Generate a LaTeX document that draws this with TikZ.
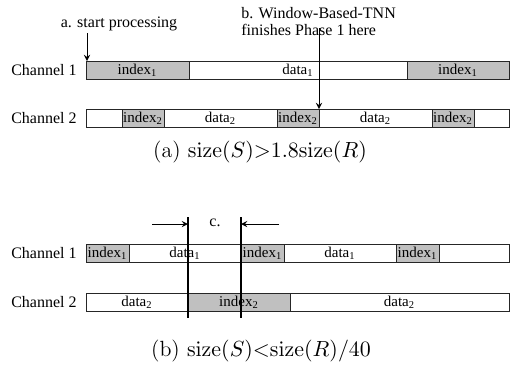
\documentclass[tikz,border=0pt]{standalone}
\usepackage[no-math]{fontspec}
\usepackage{xcolor}
\usetikzlibrary{arrows, positioning}
\newfontfamily\timesfont{Liberation Serif}
\newcommand\segfont{\timesfont\fontsize{7.5}{8}\selectfont}
\newcommand\labfont{\timesfont\fontsize{8}{8.5}\selectfont}
\definecolor{idxgray}{RGB}{192,192,192}
\tikzset{
    seg/.style={draw=black!85, rectangle, minimum height=9pt, inner sep=0pt, outer sep=0pt, font=\segfont}, % one block of a channel
    idx/.style={seg, fill=idxgray}, % index blocks are shaded
    chan/.style={font=\labfont, inner sep=0pt, anchor=east},
    note/.style={font=\labfont, inner sep=0pt, align=left},
    caption/.style={font=\fontsize{11}{13}\selectfont, inner sep=0pt},
}
\begin{document}
\begin{tikzpicture}[x=0.5pt, y=-0.5pt, >=stealth]
    \useasboundingbox (0,0) rectangle (515,381);

    % (a) channel 1
    \node[idx, minimum width=51.5pt, anchor=west] (a1i1) at (86,70) {index\textsubscript{1}};
    \node[seg, minimum width=109pt, right=0pt of a1i1] (a1d1) {data\textsubscript{1}};
    \node[idx, minimum width=51pt, right=0pt of a1d1] (a1i2) {index\textsubscript{1}};
    \node[chan, left=4.5pt of a1i1] (a1lab) {Channel 1};

    % (a) channel 2
    \node[seg, minimum width=18pt, anchor=west] (a2w1) at (86,118) {};
    \node[idx, minimum width=21pt, right=0pt of a2w1] (a2i1) {index\textsubscript{2}};
    \node[seg, minimum width=56.5pt, right=0pt of a2i1] (a2d1) {data\textsubscript{2}};
    \node[idx, minimum width=21pt, right=0pt of a2d1] (a2i2) {index\textsubscript{2}};
    \node[seg, minimum width=56.5pt, right=0pt of a2i2] (a2d2) {data\textsubscript{2}};
    \node[idx, minimum width=21pt, right=0pt of a2d2] (a2i3) {index\textsubscript{2}};
    \node[seg, minimum width=17.5pt, right=0pt of a2i3] (a2w2) {};
    \node[chan, left=4.5pt of a2w1] (a2lab) {Channel 2};

    % notes a. and b.
    \node[note] (start) at (119,24) {a. start processing};
    \node[note, anchor=west] (phase) at (241,22) {b. Window-Based-TNN\\finishes Phase 1 here};
    \coordinate (starttop) at (87,33);
    \coordinate (phasetop) at (319,28);
    \draw[->] (starttop) -- (starttop |- a1i1.north);
    \draw[->] (phasetop) -- (a2i2.north east);

    \node[caption] (capa) at (260,152) {(a) $\mathrm{size}(S){>}1.8\mathrm{size}(R)$};

    % (b) channel 1
    \node[idx, minimum width=21.5pt, anchor=west] (b1i1) at (86,253.5) {index\textsubscript{1}};
    \node[seg, minimum width=56pt, right=0pt of b1i1] (b1d1) {data\textsubscript{1}};
    \node[idx, minimum width=21.5pt, right=0pt of b1d1] (b1i2) {index\textsubscript{1}};
    \node[seg, minimum width=56pt, right=0pt of b1i2] (b1d2) {data\textsubscript{1}};
    \node[idx, minimum width=21.5pt, right=0pt of b1d2] (b1i3) {index\textsubscript{1}};
    \node[seg, minimum width=35pt, right=0pt of b1i3] (b1w1) {};
    \node[chan, left=4.5pt of b1i1] (b1lab) {Channel 1};

    % (b) channel 2
    \node[seg, minimum width=51pt, anchor=west] (b2d1) at (86,302.5) {data\textsubscript{2}};
    \node[idx, minimum width=51pt, right=0pt of b2d1] (b2i1) {index\textsubscript{2}};
    \node[seg, minimum width=109.5pt, right=0pt of b2i1] (b2d2) {data\textsubscript{2}};
    \node[chan, left=4.5pt of b2d1] (b2lab) {Channel 2};

    % window c.
    \coordinate (ctop) at (0,217);
    \coordinate (cbot) at (0,318);
    \coordinate (cleft) at (152,224);
    \coordinate (cright) at (279,224);
    \draw[line width=0.6pt] (b2i1.west |- ctop) -- (b2i1.west |- cbot);
    \draw[line width=0.6pt] (b1i2.west |- ctop) -- (b1i2.west |- cbot);
    \draw[->] (cleft) -- (cleft -| b2i1.west);
    \draw[->] (cright) -- (cright -| b1i2.west);
    \node[note] (clab) at (215,223) {c.};

    \node[caption] (capb) at (261,351) {(b) $\mathrm{size}(S){<}\mathrm{size}(R)/40$};
\end{tikzpicture}
\end{document}
